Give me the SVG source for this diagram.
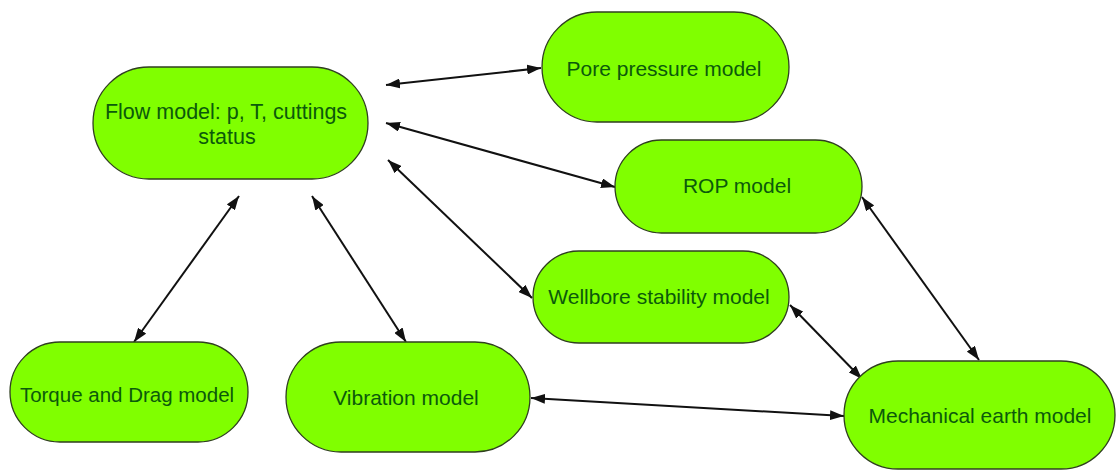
<svg xmlns="http://www.w3.org/2000/svg" width="1116" height="471" viewBox="0 0 1116 471">
<style>
.node rect{fill:#80ff00;stroke:#2f3f1f;stroke-width:1.3}
.node text{font-family:"Liberation Sans",Arial,sans-serif;font-size:21px;fill:#0b5a0b;text-anchor:middle}
.edge{stroke:#111;stroke-width:2;fill:none;marker-start:url(#ah);marker-end:url(#ah)}
</style>
<defs>
<marker id="ah" viewBox="0 0 14 10" refX="14" refY="5" markerWidth="14" markerHeight="10" markerUnits="userSpaceOnUse" orient="auto-start-reverse">
<path d="M0,0 L14,5 L0,10 z" fill="#111"/>
</marker>
</defs>
<rect width="1116" height="471" fill="#ffffff"/>
<g id="connectors">
<line class="edge" x1="386" y1="85" x2="541" y2="68"/>
<line class="edge" x1="386" y1="123" x2="615" y2="187"/>
<line class="edge" x1="388" y1="160" x2="532" y2="298"/>
<line class="edge" x1="239" y1="196" x2="134" y2="342"/>
<line class="edge" x1="312" y1="196" x2="406" y2="342"/>
<line class="edge" x1="862" y1="197" x2="979" y2="360"/>
<line class="edge" x1="790" y1="305" x2="862" y2="379"/>
<line class="edge" x1="531" y1="398" x2="844" y2="416"/>
</g>
<g id="flow" class="node">
<rect x="93" y="67" width="275" height="112" rx="56" ry="56"/>
<text x="226" y="119" style="font-size:21.5px">Flow model: p, T, cuttings</text>
<text x="227" y="144" style="font-size:21.5px">status</text>
</g>
<g id="pore" class="node">
<rect x="542" y="12" width="247" height="110" rx="55" ry="55"/>
<text x="664" y="76">Pore pressure model</text>
</g>
<g id="rop" class="node">
<rect x="615" y="140" width="247" height="93" rx="46.5" ry="46.5"/>
<text x="737" y="193">ROP model</text>
</g>
<g id="wellbore" class="node">
<rect x="533" y="251" width="256" height="92" rx="46" ry="46"/>
<text x="659" y="304">Wellbore stability model</text>
</g>
<g id="torque" class="node">
<rect x="10" y="342" width="238" height="100" rx="50" ry="50"/>
<text x="127" y="402" style="font-size:20.5px">Torque and Drag model</text>
</g>
<g id="vibration" class="node">
<rect x="286" y="342" width="244" height="110" rx="55" ry="55"/>
<text x="406" y="405">Vibration model</text>
</g>
<g id="mechanical" class="node">
<rect x="844" y="361" width="271" height="108" rx="54" ry="54"/>
<text x="980" y="423">Mechanical earth model</text>
</g>
</svg>
